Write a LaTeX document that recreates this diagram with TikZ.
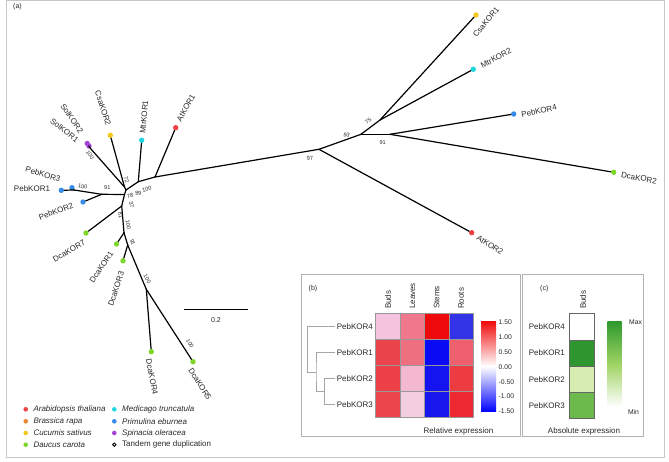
\documentclass[tikz,border=0pt]{standalone}
\usepackage{fontspec}
\setmainfont{Liberation Sans}
\definecolor{cAt}{RGB}{238,68,72}
\definecolor{cBr}{RGB}{236,136,52}
\definecolor{cCs}{RGB}{244,200,30}
\definecolor{cDc}{RGB}{126,214,40}
\definecolor{cMt}{RGB}{34,214,224}
\definecolor{cPe}{RGB}{56,140,232}
\definecolor{cSo}{RGB}{164,68,214}
\definecolor{txt}{RGB}{40,40,40}
\definecolor{frameg}{RGB}{200,200,200}
% heatmap colours
\definecolor{h40}{RGB}{244,196,222}\definecolor{h41}{RGB}{240,120,140}\definecolor{h42}{RGB}{238,10,10}\definecolor{h43}{RGB}{50,50,230}
\definecolor{h10}{RGB}{236,68,76}\definecolor{h11}{RGB}{238,112,128}\definecolor{h12}{RGB}{10,10,245}\definecolor{h13}{RGB}{238,96,110}
\definecolor{h20}{RGB}{236,64,70}\definecolor{h21}{RGB}{243,184,208}\definecolor{h22}{RGB}{20,20,240}\definecolor{h23}{RGB}{236,60,66}
\definecolor{h30}{RGB}{236,70,76}\definecolor{h31}{RGB}{245,205,225}\definecolor{h32}{RGB}{24,24,236}\definecolor{h33}{RGB}{236,40,48}
\definecolor{g1}{RGB}{46,150,46}\definecolor{g2}{RGB}{214,236,176}\definecolor{g3}{RGB}{108,186,76}
\definecolor{gTop}{RGB}{46,154,46}\definecolor{gMid}{RGB}{160,212,100}
\definecolor{cbR}{RGB}{240,10,10}
\newcommand\hcell[3]{\filldraw[fill=#3,draw=black!40,line width=0.6pt] ({375.7+#1*24.4},{313.3+#2*26.1}) rectangle ++(24.4,26.1);}
\newcommand\gcell[2]{\filldraw[fill=#2,draw=black!60,line width=0.6pt] (569.3,{313.7+#1*26.2}) rectangle ++(25.4,26.2);}
\begin{document}
\begin{tikzpicture}[x=1pt,y=-1pt,
  tip/.style={circle,inner sep=0pt,minimum size=5.4pt,fill=#1},
  br/.style={line width=1.2pt,black,line cap=round},
  lab/.style={font=\fontsize{8}{9}\selectfont,text=txt,inner sep=0pt},
  bs/.style={font=\fontsize{5.6}{6}\selectfont,text=txt,inner sep=0pt},
  sm/.style={font=\fontsize{7}{8}\selectfont,text=txt,inner sep=0pt},
  dend/.style={line width=1pt,black!35},
  leg/.style={font=\fontsize{8}{9}\selectfont\itshape,text=txt,inner sep=0pt,anchor=west},
  ldot/.style={circle,inner sep=0pt,minimum size=4.6pt,fill=#1}]
\useasboundingbox (0,0) rectangle (669,462);
\draw[frameg,line width=1pt] (6.7,0.7) rectangle (664.3,457.3);
\node[sm,anchor=west] (lba) at (13,7) {(a)};
% ---------- tree: internal nodes
\coordinate (nAt1) at (155,177);
\coordinate (nMtr) at (138.3,181.7);
\coordinate (nB) at (126,190);
\coordinate (nA) at (124.5,187);
\coordinate (nS) at (90.5,148.5);
\coordinate (nC) at (124.5,194.5);
\coordinate (n91p) at (101.7,194.3);
\coordinate (n100p) at (74,190);
\coordinate (nD) at (121.7,206);
\coordinate (nE) at (124,232.7);
\coordinate (nF) at (127.7,245);
\coordinate (nG) at (146.3,289.3);
\coordinate (n97) at (319,149.3);
\coordinate (n93) at (361,134.3);
\coordinate (n75) at (380,120);
\coordinate (n91r) at (390,134.3);
% ---------- tips
\node[tip=cAt] (AtKOR1) at (175.7,127.7) {};
\node[tip=cMt] (MtrKOR1) at (141.7,140.3) {};
\node[tip=cCs] (CsaKOR2) at (110.3,135.3) {};
\node[tip=cSo] (SolKOR2) at (87.2,143.5) {};
\node[tip=cSo] (SolKOR1) at (89,146) {};
\node[tip=cPe] (PebKOR1) at (61.3,190.3) {};
\node[tip=cPe] (PebKOR3) at (72,187.7) {};
\node[tip=cPe] (PebKOR2) at (83,202) {};
\node[tip=cDc] (DcaKOR7) at (86,233) {};
\node[tip=cDc] (DcaKOR1) at (116.5,244) {};
\node[tip=cDc] (DcaKOR3) at (123,260.8) {};
\node[tip=cDc] (DcaKOR4) at (151.3,351.7) {};
\node[tip=cDc] (DcaKOR5) at (193,361.7) {};
\node[tip=cAt] (AtKOR2) at (471.7,232.7) {};
\node[tip=cCs] (CsaKOR1) at (476,15) {};
\node[tip=cMt] (MtrKOR2) at (473.3,69.3) {};
\node[tip=cPe] (PebKOR4) at (513.7,114) {};
\node[tip=cDc] (DcaKOR2) at (613.7,172.3) {};
% ---------- branches
\draw[br] (nAt1) -- (AtKOR1);
\draw[br] (nAt1) -- (n97);
\draw[br] (nAt1) -- (nMtr);
\draw[br] (nMtr) -- (MtrKOR1);
\draw[br] (nMtr) -- (nB);
\draw[br] (nB) -- (nA);
\draw[br] (nA) -- (CsaKOR2);
\draw[br] (nA) -- (nS);
\draw[br] (nS) -- (SolKOR1);
\draw[br] (nS) -- (SolKOR2);
\draw[br] (nB) -- (nC);
\draw[br] (nC) -- (n91p);
\draw[br] (n91p) -- (PebKOR2);
\draw[br] (n91p) -- (n100p);
\draw[br] (n100p) -- (PebKOR1);
\draw[br] (n100p) -- (PebKOR3);
\draw[br] (nC) -- (nD);
\draw[br] (nD) -- (DcaKOR7);
\draw[br] (nD) -- (nE);
\draw[br] (nE) -- (DcaKOR1);
\draw[br] (nE) -- (nF);
\draw[br] (nF) -- (DcaKOR3);
\draw[br] (nF) -- (nG);
\draw[br] (nG) -- (DcaKOR4);
\draw[br] (nG) -- (DcaKOR5);
\draw[br] (n97) -- (AtKOR2);
\draw[br] (n97) -- (n93);
\draw[br] (n93) -- (n75);
\draw[br] (n75) -- (CsaKOR1);
\draw[br] (n75) -- (MtrKOR2);
\draw[br] (n93) -- (n91r);
\draw[br] (n91r) -- (PebKOR4);
\draw[br] (n91r) -- (DcaKOR2);
% ---------- tip labels
\node[lab,rotate=50] (lCsaKOR1) at (486,22) {CsaKOR1};
\node[lab,rotate=28] (lMtrKOR2) at (496,58) {MtrKOR2};
\node[lab,rotate=13] (lPebKOR4) at (539,111) {PebKOR4};
\node[lab,rotate=-10] (lDcaKOR2) at (639,178) {DcaKOR2};
\node[lab,rotate=-33] (lAtKOR2) at (490,245) {AtKOR2};
\node[lab,rotate=60] (lAtKOR1) at (186,108) {AtKOR1};
\node[lab,rotate=85] (lMtrKOR1) at (144,117) {MtrKOR1};
\node[lab,rotate=-72] (lCsaKOR2) at (103,108) {CsaKOR2};
\node[lab,rotate=-55] (lSolKOR2) at (72,118.5) {SolKOR2};
\node[lab,rotate=-38] (lSolKOR1) at (64.5,130.5) {SolKOR1};
\node[lab,rotate=-17] (lPebKOR3) at (43,174) {PebKOR3};
\node[lab] (lPebKOR1) at (32,189) {PebKOR1};
\node[lab,rotate=20] (lPebKOR2) at (56,211.5) {PebKOR2};
\node[lab,rotate=30] (lDcaKOR7) at (69,251) {DcaKOR7};
\node[lab,rotate=56] (lDcaKOR1) at (101.5,267) {DcaKOR1};
\node[lab,rotate=72] (lDcaKOR3) at (116,289) {DcaKOR3};
\node[lab,rotate=-79] (lDcaKOR4) at (152,377) {DcaKOR4};
\node[lab,rotate=-58] (lDcaKOR5) at (200,384) {DcaKOR5};
% ---------- bootstrap values
\node[bs,rotate=-55] (b1) at (90,155) {100};
\node[bs,rotate=-70] (b2) at (126.5,180) {72};
\node[bs,rotate=-10] (b3) at (82.7,186.5) {100};
\node[bs] (b4) at (107.3,188) {91};
\node[bs,rotate=10] (b5) at (130,196) {78};
\node[bs,rotate=15] (b6) at (138.3,193.2) {89};
\node[bs,rotate=15] (b7) at (146.8,189) {100};
\node[bs,rotate=-70] (b8) at (131.7,205) {37};
\node[bs,rotate=-80] (b9) at (120.5,215) {81};
\node[bs,rotate=-80] (b10) at (128.3,225) {100};
\node[bs,rotate=-70] (b11) at (132.7,242.3) {91};
\node[bs,rotate=-60] (b12) at (147.3,279) {100};
\node[bs,rotate=-60] (b13) at (190,343.5) {100};
\node[bs,rotate=8] (b14) at (310,158.3) {97};
\node[bs,rotate=-15] (b15) at (346.7,135) {93};
\node[bs,rotate=40] (b16) at (368.3,121) {75};
\node[bs] (b17) at (382.7,142.3) {91};
% ---------- scale bar
\coordinate (sb1) at (184,309);
\coordinate (sb2) at (248,309);
\draw[line width=1pt,black] (sb1) -- (sb2);
\node[sm] (sbl) at (216,320.5) {0.2};
% ---------- legend
\node[ldot=cAt] (d1) at (25.7,409.3) {}; \node[leg] (t1) at (33.3,409.3) {Arabidopsis thaliana};
\node[ldot=cBr] (d2) at (25.7,421.3) {}; \node[leg] (t2) at (33.3,421.3) {Brassica rapa};
\node[ldot=cCs] (d3) at (25.7,433) {}; \node[leg] (t3) at (33.3,433) {Cucumis sativus};
\node[ldot=cDc] (d4) at (25.7,444.7) {}; \node[leg] (t4) at (33.3,444.7) {Daucus carota};
\node[ldot=cMt] (d5) at (114.3,409.3) {}; \node[leg] (t5) at (122,409.3) {Medicago truncatula};
\node[ldot=cPe] (d6) at (114.3,421.3) {}; \node[leg] (t6) at (122,421.3) {Primulina eburnea};
\node[ldot=cSo] (d7) at (114.3,433) {}; \node[leg] (t7) at (122,433) {Spinacia oleracea};
\node[circle,draw=black,line width=0.9pt,fill=white,inner sep=0pt,minimum size=3.4pt] (d8) at (114.3,444.7) {};
\node[leg,font=\fontsize{8}{9}\selectfont] (t8) at (122,444.7) {Tandem gene duplication};
% ---------- panel (b)
\draw[black!30,line width=0.8pt] (301.7,274) rectangle (520,436.7);
\node[sm,anchor=west] (lbb) at (308.5,289) {(b)};
\foreach \nm/\xx in {Buds/387.9,Leaves/412.3,Stems/436.7,Roots/461.1}
  \node[lab,rotate=90,anchor=west] (hc\nm) at (\xx,309) {\nm};
\hcell{0}{0}{h40}\hcell{1}{0}{h41}\hcell{2}{0}{h42}\hcell{3}{0}{h43}
\hcell{0}{1}{h10}\hcell{1}{1}{h11}\hcell{2}{1}{h12}\hcell{3}{1}{h13}
\hcell{0}{2}{h20}\hcell{1}{2}{h21}\hcell{2}{2}{h22}\hcell{3}{2}{h23}
\hcell{0}{3}{h30}\hcell{1}{3}{h31}\hcell{2}{3}{h32}\hcell{3}{3}{h33}
\node[lab,anchor=east] (r4) at (373,326.4) {PebKOR4};
\node[lab,anchor=east] (r1) at (373,352.5) {PebKOR1};
\node[lab,anchor=east] (r2) at (373,378.6) {PebKOR2};
\node[lab,anchor=east] (r3) at (373,404.7) {PebKOR3};
\coordinate (e4) at (335,326.4);
\coordinate (e1) at (335,352.5);
\coordinate (e2) at (335,378.6);
\coordinate (e3) at (335,404.7);
\coordinate (k23) at (324.3,391.6);
\coordinate (k123) at (316,372);
\draw[dend] (e4) -| (307.7,372) -- (k123);
\draw[dend] (e1) -| (k123) |- (k23);
\draw[dend] (e2) -| (k23) |- (e3);
\shade[top color=cbR,bottom color=blue,middle color=white] (481,321) rectangle (496,411.7);
\foreach \v/\yy in {1.50/322.3,1.00/337.2,0.50/352.0,0.00/366.8,-0.50/381.7,-1.00/396.6,-1.50/411.5}
  \node[font=\fontsize{6.8}{7}\selectfont,text=txt,inner sep=0pt,anchor=west] at (498.5,\yy) {\v};
\node[lab] (relx) at (458.5,431) {Relative expression};
% ---------- panel (c)
\draw[black!30,line width=0.8pt] (522.7,274) rectangle (643.3,436.7);
\node[sm,anchor=west] (lbc) at (540,289) {(c)};
\node[lab,rotate=90,anchor=west] (gcB) at (583,309) {Buds};
\gcell{0}{white}\gcell{1}{g1}\gcell{2}{g2}\gcell{3}{g3}
\node[lab,anchor=east] (s4) at (565,326.8) {PebKOR4};
\node[lab,anchor=east] (s1) at (565,353) {PebKOR1};
\node[lab,anchor=east] (s2) at (565,379.2) {PebKOR2};
\node[lab,anchor=east] (s3) at (565,405.4) {PebKOR3};
\shade[top color=gTop,bottom color=white,middle color=gMid] (607.3,321.7) rectangle (621.7,406.7);
\node[font=\fontsize{6.8}{7}\selectfont,text=txt,inner sep=0pt] (mx) at (635.5,322.3) {Max};
\node[font=\fontsize{6.8}{7}\selectfont,text=txt,inner sep=0pt] (mn) at (633.5,412.5) {Min};
\node[lab] (absx) at (584,431) {Absolute expression};
\end{tikzpicture}
\end{document}
